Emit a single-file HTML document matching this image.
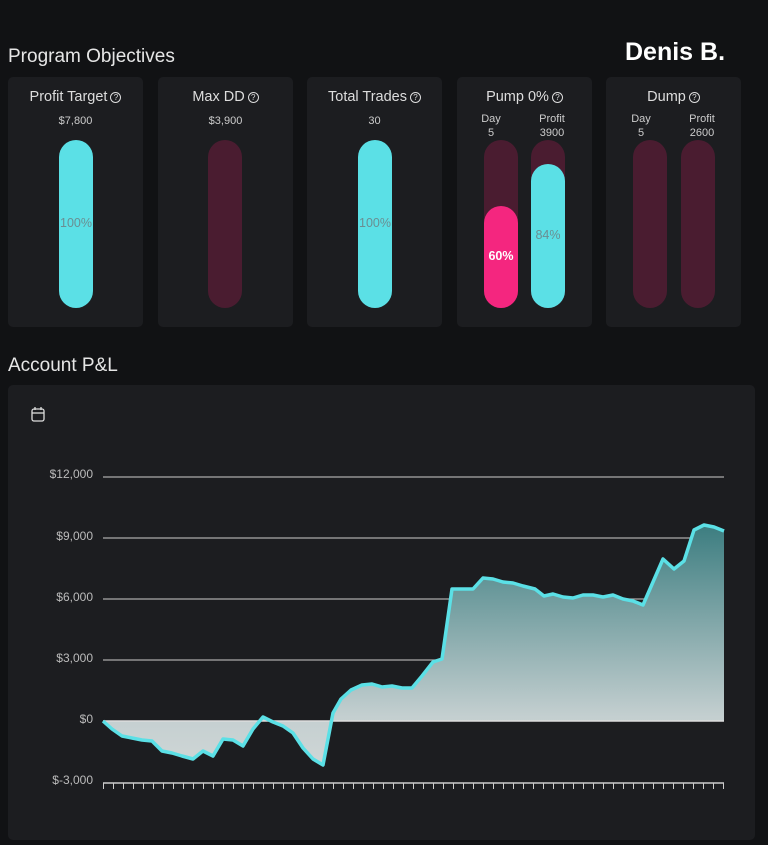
<!DOCTYPE html>
<html><head><meta charset="utf-8"><style>
body{margin:0;width:768px;height:845px;background:#111214;font-family:"Liberation Sans",sans-serif;position:relative;overflow:hidden;color:#ddd}
.t{position:absolute;font-size:19px;color:#e6e6e6}
.card{position:absolute;top:77px;width:135px;height:250px;background:#1c1d20;border-radius:5px}
.h{position:absolute;top:12px;width:100%;text-align:center;font-size:14.5px;color:#ddd}
.q{display:inline-block;width:9px;height:9px;border:1.3px solid #ddd;border-radius:50%;font-size:8px;line-height:9px;text-align:center;vertical-align:1px;margin-left:3px}
.v{position:absolute;top:38px;width:100%;text-align:center;font-size:11px;color:#ccc}
.bar{position:absolute;width:34px;border-radius:17px;background:#4a1c30}
.c{background:#5be0e6}.p{background:#f4267f}
.pct{position:absolute;width:100%;text-align:center;font-size:12.5px;color:#6a8e92}
.s{position:absolute;font-size:11px;color:#ccc;text-align:center;width:40px;line-height:14px}
</style></head><body>
<div class="t" style="left:8px;top:46px">Program Objectives</div>
<div style="position:absolute;left:625px;top:38px;font-size:25px;font-weight:bold;color:#fff">Denis B.</div>

<div class="card" style="left:8px"><div class="h">Profit Target<span class="q">?</span></div><div class="v">$7,800</div>
<div class="bar c" style="left:51px;top:63px;height:168px"><div class="pct" style="top:76px">100%</div></div></div>
<div class="card" style="left:158px"><div class="h">Max DD<span class="q">?</span></div><div class="v">$3,900</div>
<div class="bar" style="left:50px;top:63px;height:168px"></div></div>
<div class="card" style="left:307px"><div class="h">Total Trades<span class="q">?</span></div><div class="v">30</div>
<div class="bar c" style="left:51px;top:63px;height:168px"><div class="pct" style="top:76px">100%</div></div></div>
<div class="card" style="left:457px"><div class="h">Pump 0%<span class="q">?</span></div>
<div class="s" style="left:14px;top:35px">Day<br>5</div><div class="s" style="left:75px;top:35px">Profit<br>3900</div>
<div class="bar" style="left:27px;top:63px;height:168px"><div class="bar p" style="left:0;top:66px;height:102px"><div class="pct" style="top:43px;color:#fff;font-weight:bold">60%</div></div></div>
<div class="bar" style="left:74px;top:63px;height:168px"><div class="bar c" style="left:0;top:24px;height:144px"><div class="pct" style="top:64px">84%</div></div></div></div>
<div class="card" style="left:606px"><div class="h">Dump<span class="q">?</span></div>
<div class="s" style="left:15px;top:35px">Day<br>5</div><div class="s" style="left:76px;top:35px">Profit<br>2600</div>
<div class="bar" style="left:27px;top:63px;height:168px"></div><div class="bar" style="left:75px;top:63px;height:168px"></div></div>

<div class="t" style="left:8px;top:355px">Account P&amp;L</div>
<div style="position:absolute;left:8px;top:385px;width:747px;height:455px;background:#1c1d20;border-radius:5px"></div>
<svg style="position:absolute;left:0;top:0" width="768" height="845">
<defs><linearGradient id="g" gradientUnits="userSpaceOnUse" x1="0" y1="525" x2="0" y2="765"><stop offset="0" stop-color="#3c7d80"/><stop offset="0.8" stop-color="#c4cfd0"/><stop offset="1" stop-color="#cfd6d6"/></linearGradient></defs>
<g fill="none" stroke="#ddd" stroke-width="1.3"><rect x="32" y="409" width="12" height="12" rx="2"/><line x1="32" y1="413" x2="44" y2="413"/><line x1="35" y1="407" x2="35" y2="410"/><line x1="41" y1="407" x2="41" y2="410"/></g>
<g fill="#bbb" font-size="12" text-anchor="end"><text x="93" y="478">$12,000</text><text x="93" y="540">$9,000</text><text x="93" y="601">$6,000</text><text x="93" y="662">$3,000</text><text x="93" y="723">$0</text><text x="93" y="784">$-3,000</text></g>
<g stroke="#aaa" stroke-width="1.2"><line x1="103" y1="477" x2="724" y2="477"/><line x1="103" y1="538" x2="724" y2="538"/><line x1="103" y1="599" x2="724" y2="599"/><line x1="103" y1="660" x2="724" y2="660"/></g>
<polygon fill="url(#g)" points="103,721 112,729 122,736 132,738 142,740 152,741 162,751 172,753 182,756 193,759 203,751 213,756 223,739 233,740 243,746 253,729 263,717 273,722 283,726 293,733 303,748 313,759 323,765 333,713 341,699 351,690 362,685 372,684 382,687 392,686 402,688 412,688 422,676 433,662 442,659 452,589 473,589 483,578 493,579 503,582 513,583 523,586 535,589 544,596 553,594 563,597 573,598 583,595 593,595 603,597 613,595 623,599 633,601 643,605 663,559 674,569 684,561 694,530 704,525 714,527 724,531 724,721"/>
<line x1="103" y1="721" x2="724" y2="721" stroke="#ddd" stroke-width="1.5"/>
<polyline fill="none" stroke="#5be0e6" stroke-width="3.5" stroke-linejoin="round" points="103,721 112,729 122,736 132,738 142,740 152,741 162,751 172,753 182,756 193,759 203,751 213,756 223,739 233,740 243,746 253,729 263,717 273,722 283,726 293,733 303,748 313,759 323,765 333,713 341,699 351,690 362,685 372,684 382,687 392,686 402,688 412,688 422,676 433,662 442,659 452,589 473,589 483,578 493,579 503,582 513,583 523,586 535,589 544,596 553,594 563,597 573,598 583,595 593,595 603,597 613,595 623,599 633,601 643,605 663,559 674,569 684,561 694,530 704,525 714,527 724,531"/>
<line x1="103" y1="783" x2="724" y2="783" stroke="#ccc" stroke-width="1.5"/>
<path stroke="#ccc" stroke-width="1" d="M103.5 783v6M113.5 783v6M123.5 783v6M133.5 783v6M143.5 783v6M153.5 783v6M163.5 783v6M173.5 783v6M183.5 783v6M193.5 783v6M203.5 783v6M213.5 783v6M223.5 783v6M233.5 783v6M243.5 783v6M253.5 783v6M263.5 783v6M273.5 783v6M283.5 783v6M293.5 783v6M303.5 783v6M313.5 783v6M323.5 783v6M333.5 783v6M343.5 783v6M353.5 783v6M363.5 783v6M373.5 783v6M383.5 783v6M393.5 783v6M403.5 783v6M413.5 783v6M423.5 783v6M433.5 783v6M443.5 783v6M453.5 783v6M463.5 783v6M473.5 783v6M483.5 783v6M493.5 783v6M503.5 783v6M513.5 783v6M523.5 783v6M533.5 783v6M543.5 783v6M553.5 783v6M563.5 783v6M573.5 783v6M583.5 783v6M593.5 783v6M603.5 783v6M613.5 783v6M623.5 783v6M633.5 783v6M643.5 783v6M653.5 783v6M663.5 783v6M673.5 783v6M683.5 783v6M693.5 783v6M703.5 783v6M713.5 783v6M723.5 783v6"/>
</svg>
</body></html>
